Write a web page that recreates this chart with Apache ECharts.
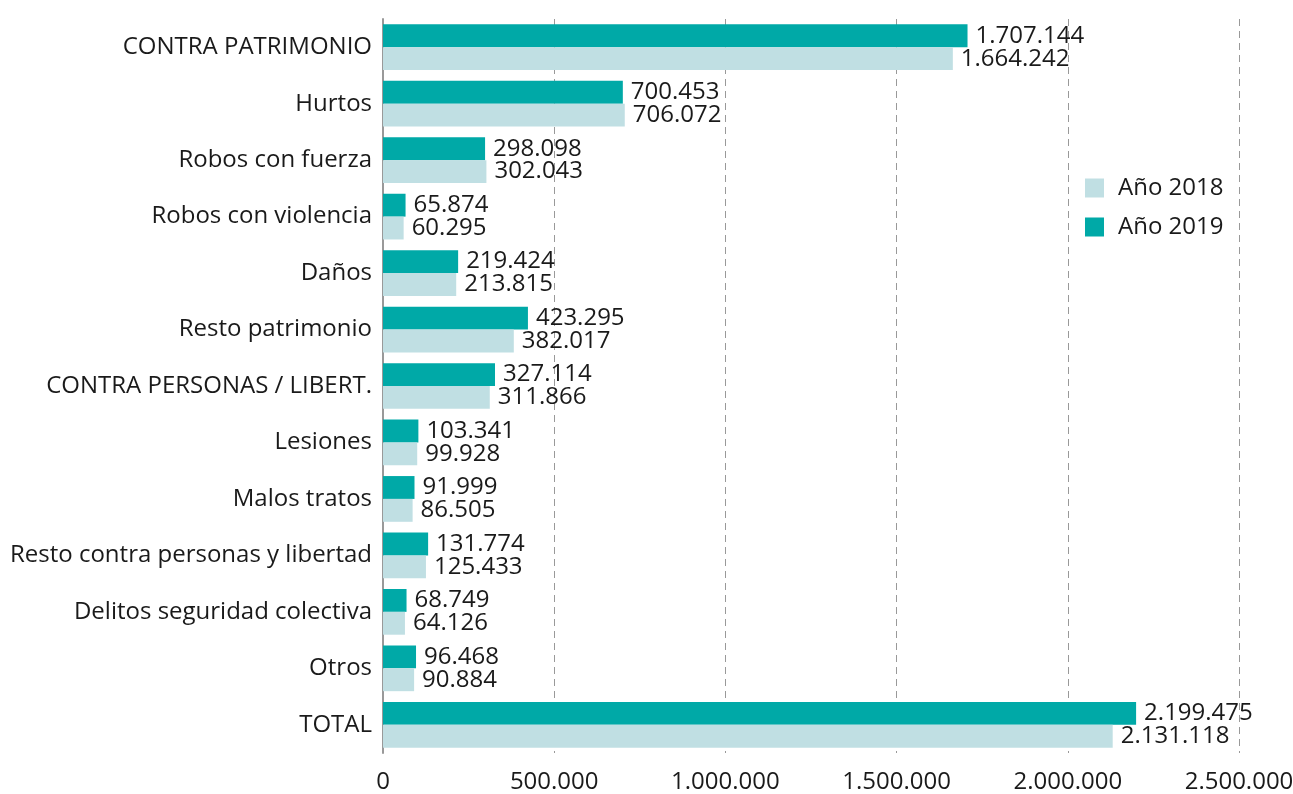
<!DOCTYPE html>
<html><head><meta charset="utf-8">
<script src="https://cdn.jsdelivr.net/npm/echarts@6/dist/echarts.min.js"></script>
<style>html,body{margin:0;padding:0;background:#fff}#c{width:1293px;height:794px}</style>
</head><body><div id="c"></div>
<script>
const categories = ["CONTRA PATRIMONIO","Hurtos","Robos con fuerza","Robos con violencia","Daños","Resto patrimonio","CONTRA PERSONAS / LIBERT.","Lesiones","Malos tratos","Resto contra personas y libertad","Delitos seguridad colectiva","Otros","TOTAL"];
const values2018 = [1664242,706072,302043,60295,213815,382017,311866,99928,86505,125433,64126,90884,2131118];
const values2019 = [1707144,700453,298098,65874,219424,423295,327114,103341,91999,131774,68749,96468,2199475];
const fmt = v => String(v).replace(/\B(?=(\d{3})+(?!\d))/g, '.');
const FONT = "Open Sans";
const chart = echarts.init(document.getElementById('c'));
const lbl = {show:true, position:'right', distance:8, color:'#1a1a1a', fontSize:24, fontFamily:FONT, formatter:p=>fmt(p.value)};
chart.setOption({
  animation:false,
  textStyle:{fontFamily:FONT},
  grid:{left:383, right:54, top:19, bottom:41, containLabel:false, outerBoundsMode:'none'},
  legend:{orient:'vertical', left:1080, top:171, itemWidth:19, itemHeight:19, itemGap:15, icon:'rect',
    data:['Año 2018','Año 2019'], textStyle:{fontSize:24, color:'#1a1a1a', fontFamily:FONT, padding:[0,0,0,9]}},
  xAxis:{type:'value', min:0, max:2500000, interval:500000,
    axisLine:{show:false}, axisTick:{show:false},
    axisLabel:{fontSize:24, color:'#1a1a1a', fontFamily:FONT, margin:17, formatter:v=>fmt(v)},
    splitLine:{show:true, lineStyle:{type:[7,5], color:'#999', width:1}}},
  yAxis:{type:'category', data:categories, inverse:true,
    axisLine:{show:true, lineStyle:{color:'#999', width:2}}, axisTick:{show:false},
    axisLabel:{fontSize:24, color:'#1a1a1a', fontFamily:FONT, margin:11}},
  series:[
    {name:'Año 2019', type:'bar', data:values2019, barGap:'0%', barCategoryGap:'19%', itemStyle:{color:'#00A9A7'}, label:lbl},
    {name:'Año 2018', type:'bar', data:values2018, barGap:'0%', barCategoryGap:'19%', itemStyle:{color:'#C0DFE3'}, label:lbl}
  ]
});
</script></body></html>
